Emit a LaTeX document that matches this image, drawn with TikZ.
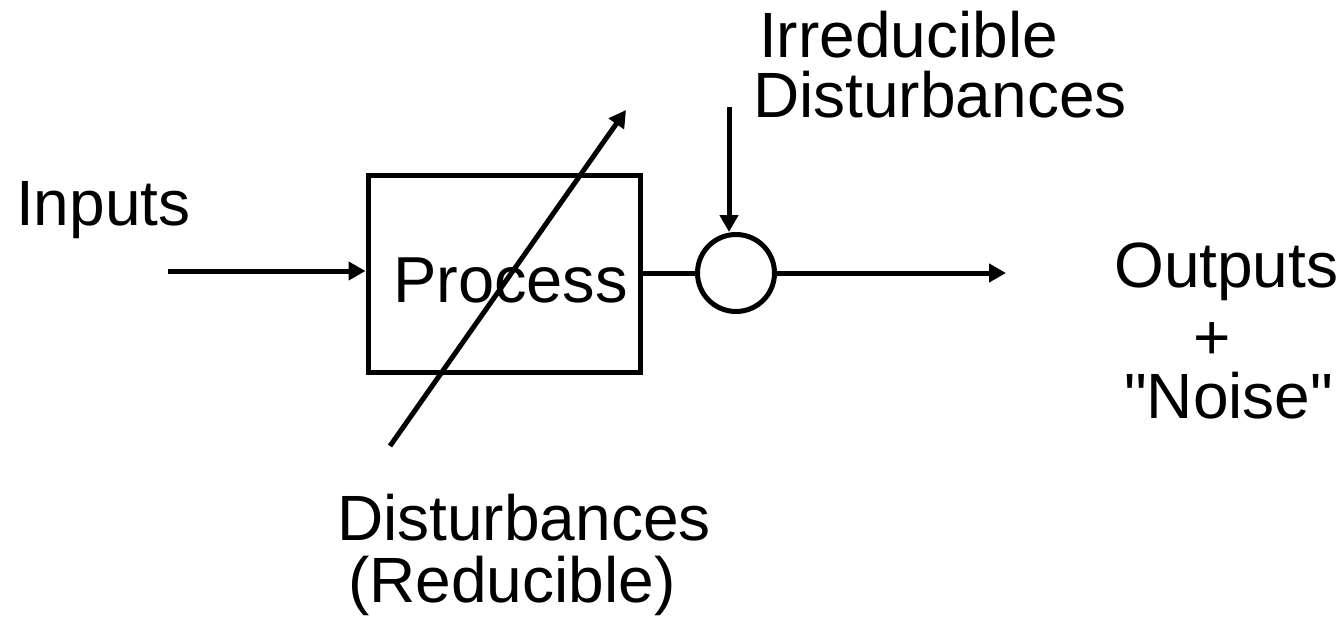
\documentclass[tikz,border=0pt]{standalone}
\usepackage{fontspec}
\setmainfont{Liberation Sans}
\newfontfamily\plainsans{Liberation Sans}
\usetikzlibrary{arrows.meta}
\begin{document}
\begin{tikzpicture}[x=1pt,y=-1pt,
  lbl/.style={anchor=base west,inner sep=0pt,font=\plainsans\fontsize{64}{70}\selectfont},
  conn/.style={line width=5pt},
  arr/.style={conn,-{Triangle[length=17pt,width=18pt]}}]
\useasboundingbox (0,0) rectangle (1342,621);
\node[draw,line width=5pt,minimum width=272pt,minimum height=197pt,inner sep=0pt] (proc) at (504,273.5) {};
\node[lbl,font=\plainsans\fontsize{65}{70}\selectfont] (proclbl) at (393,302) {Process};
\node[draw,circle,line width=5pt,minimum size=77pt,inner sep=0pt] (sum) at (736,273) {};
\coordinate (inst) at (168,271);
\coordinate (itop) at (729,107);
\coordinate (oend) at (1006,273);
\coordinate (dbot) at (390,446);
\coordinate (dtop) at (626,110);
\draw[arr] (inst) -- (inst -| proc.west);
\draw[conn] (proc.east |- sum.west) -- (sum.west);
\draw[arr] (itop) -- (itop |- sum.north);
\draw[arr] (sum.east) -- (oend);
\draw[arr] (dbot) -- (dtop);
\node[lbl] (inputs) at (16,225) {Inputs};
\node[lbl] (irr1) at (759,57) {Irreducible};
\node[lbl] (irr2) at (753,117) {Disturbances};
\node[lbl] (out1) at (1114,287) {Outputs};
\node[anchor=base,inner sep=0pt,font=\plainsans\fontsize{64}{70}\selectfont] (out2) at (1212,359) {+};
\node[lbl] (out3) at (1124,418) {"Noise"};
\node[lbl] (dist1) at (337,540) {Disturbances};
\node[lbl] (dist2) at (348,602) {(Reducible)};
\end{tikzpicture}
\end{document}
